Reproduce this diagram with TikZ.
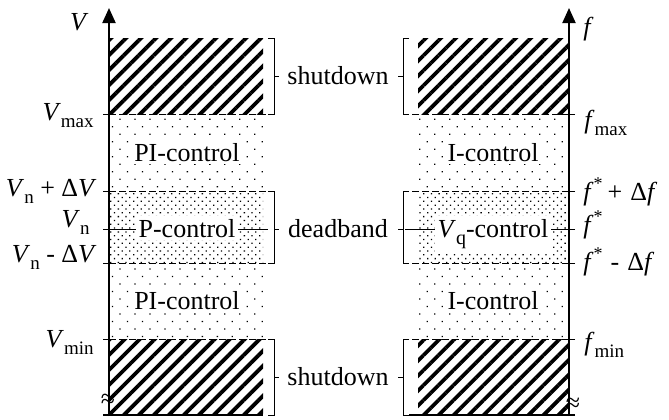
\documentclass[tikz,border=0pt]{standalone}
\usepackage{fontspec}
\setmainfont{Liberation Serif}
\usetikzlibrary{patterns.meta,arrows.meta}
\newcommand\lsub[1]{\raisebox{-0.27em}{\fontsize{9.5pt}{10pt}\selectfont #1}}
\newcommand\lsup[1]{\raisebox{0.42em}{\fontsize{9pt}{9pt}\selectfont #1}}
\begin{document}
\begin{tikzpicture}[x=0.5pt,y=-0.5pt,
  every node/.style={inner sep=0pt},
  ctrltext/.style={font=\fontsize{13pt}{15pt}\selectfont},
  lbl/.style={font=\fontsize{13pt}{15pt}\selectfont},
  axisline/.style={line width=1pt,-{Triangle[length=7.5pt,width=6.5pt]}},
  fineline/.style={line width=0.5pt},
  hatch/.style={pattern={Lines[angle=45,distance=5.3pt,line width=1.9pt]}},
  sparse/.style={pattern={Dots[radius=0.45pt,distance=5.3pt,angle=45]}},
  dense/.style={pattern={Dots[radius=0.45pt,distance=2.7pt,angle=45]}},
  dashline/.style={line width=0.5pt,dash pattern=on 3.5pt off 1.5pt},
  ctrl/.style={ctrltext,fill=white,inner sep=1.5pt,anchor=base}
]
\useasboundingbox (0,0) rectangle (669,419);
% ---------- left column regions
\fill[hatch]  (110,38)  rectangle (263,114);
\fill[sparse] (110,114) rectangle (263,191);
\fill[dense]  (110,191) rectangle (263,263);
\fill[sparse] (110,263) rectangle (263,339);
\fill[hatch]  (110,339) rectangle (263,415);
% ---------- right column regions
\fill[hatch]  (418,38)  rectangle (568,114);
\fill[sparse] (418,114) rectangle (568,191);
\fill[dense]  (418,191) rectangle (568,263);
\fill[sparse] (418,263) rectangle (568,339);
\fill[hatch]  (418,339) rectangle (568,415);
% ---------- coordinates
\foreach \n/\y in {max/114,up/191,mid/229,lo/263,min/339,bot/415}{
  \coordinate (L\n) at (103,\y);
  \coordinate (Le\n) at (268,\y);
  \coordinate (R\n) at (575,\y);
  \coordinate (Re\n) at (409,\y);
}
% ---------- boundary lines
\foreach \n in {max,up,lo,min}{
  \draw[fineline] (L\n) -- ++(6,0);
  \draw[dashline] ([xshift=3pt]L\n) -- (Le\n);
  \draw[fineline] (R\n) -- ++(-6,0);
  \draw[dashline] ([xshift=-3pt]R\n) -- (Re\n);
}
\draw[fineline] (Lmid) -- (Lemid);
\draw[fineline] (Rmid) -- ([xshift=-2pt]Remid);
\draw[line width=0.8pt] (Lbot) -- (263,415);
\draw[line width=0.8pt] (Rbot) -- (Rebot);
% ---------- brackets
\coordinate (Ltop) at (268,38);
\coordinate (Rtop) at (409,38);
\draw[fineline] (Ltop) -- ++(6,0) |- (Lemax);
\draw[fineline] (Leup) -- ++(6,0) |- (Lelo);
\draw[fineline] (Lemin) -- ++(6,0) |- (Lebot);
\draw[fineline] (274,76) -- (279,76);
\draw[fineline] (274,229) -- (279,229);
\draw[fineline] (274,377) -- (279,377);
\draw[fineline] (Rtop) -- ++(-6,0) |- (Remax);
\draw[fineline] (Reup) -- ++(-6,0) |- (Relo);
\draw[fineline] (Remin) -- ++(-6,0) |- (Rebot);
\draw[fineline] (398,76) -- (403,76);
\draw[fineline] (398,229) -- (403,229);
\draw[fineline] (398,377) -- (403,377);
% ---------- axes
\coordinate (LA0) at (109,416);
\coordinate (LA1) at (109,8);
\coordinate (RA0) at (569,416);
\coordinate (RA1) at (569,8);
\draw[axisline] (LA0) -- (LA1);
\draw[axisline] (RA0) -- (RA1);
\node[lbl] (lbrk) at (108,401) {≈};
\node[lbl] (rbrk) at (573,405) {≈};
% ---------- control texts
\node[ctrl] (pi1) at (187,161) {PI-control};
\node[ctrl] (p)   at (187,237) {P-control};
\node[ctrl] (pi2) at (187,309) {PI-control};
\node[ctrl] (i1)  at (493,161) {I-control};
\node[ctrl] (vq)  at (493,237) {\textit{V}\raisebox{-0.3em}{\fontsize{10pt}{11pt}\selectfont q}-control};
\node[ctrl] (i2)  at (493,309) {I-control};
% ---------- middle labels
\node[ctrltext] (sd1) at (338,76) {shutdown};
\node[ctrltext] (db)  at (338,229) {deadband};
\node[ctrltext] (sd2) at (338,377) {shutdown};
% ---------- left axis labels
\node[lbl,anchor=base east] (lV)    at (89,30)  {\textit{V}};
\node[lbl,anchor=base east] (lVmax) at (94,120) {\textit{V}\lsub{max}};
\node[lbl,anchor=base east] (lVup)  at (97,196) {\textit{V}\lsub{n} + Δ\textit{V}};
\node[lbl,anchor=base east] (lVn)   at (90,227) {\textit{V}\lsub{n}};
\node[lbl,anchor=base east] (lVlo)  at (97,262) {\textit{V}\lsub{n} - Δ\textit{V}};
\node[lbl,anchor=base east] (lVmin) at (94,347) {\textit{V}\lsub{min}};
% ---------- right axis labels
\node[lbl,anchor=base west] (rf)    at (583,35)  {\textit{f}};
\node[lbl,anchor=base west] (rfmax) at (584,128) {\textit{f}\lsub{max}};
\node[lbl,anchor=base west] (rfup)  at (583,200) {\textit{f}\lsup{*}\hspace{2.5pt}+\hspace{4pt}Δ\textit{f}};
\node[lbl,anchor=base west] (rfs)   at (583,233) {\textit{f}\lsup{*}};
\node[lbl,anchor=base west] (rflo)  at (583,270) {\textit{f}\lsup{*}\hspace{4pt}-\hspace{4pt}Δ\textit{f}};
\node[lbl,anchor=base west] (rfmin) at (584,350) {\textit{f}\lsub{min}};
\end{tikzpicture}
\end{document}
